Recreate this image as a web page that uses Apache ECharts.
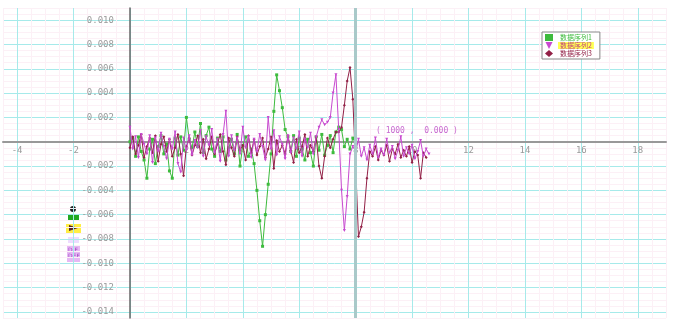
<!DOCTYPE html>
<html>
<head>
<meta charset="utf-8">
<script src="https://cdn.jsdelivr.net/npm/echarts@6/dist/echarts.min.js"></script>
<style>html,body{margin:0;padding:0;background:#fff}#c{width:677px;height:320px}</style>
</head>
<body>
<div id="c"></div>
<script>
// x positions: step 0.1 starting at 0
var xStep = 0.1;
var seriesNames = ['数据序列1', '数据序列2', '数据序列3'];
var greenValues = [
 0.0000, 0.0003,-0.0012, 0.0004,-0.0008,-0.0015,-0.0030,-0.0006, 0.0002,-0.0018,
-0.0004, 0.0005,-0.0010,-0.0002,-0.0024,-0.0030, 0.0003,-0.0011, 0.0004,-0.0007,
 0.0020, 0.0002,-0.0005, 0.0008,-0.0004, 0.0015,-0.0009, 0.0005, 0.0012,-0.0006,
-0.0012, 0.0003,-0.0008, 0.0004,-0.0015,-0.0005, 0.0002,-0.0010, 0.0006,-0.0020,
-0.0003, 0.0004,-0.0012,-0.0006,-0.0018,-0.0040,-0.0065,-0.0086,-0.0060,-0.0035,
-0.0010, 0.0025, 0.0055, 0.0042, 0.0028, 0.0010, 0.0004,-0.0008, 0.0005,-0.0012,
 0.0003,-0.0006,-0.0015, 0.0002,-0.0009,-0.0020, 0.0004,-0.0007, 0.0006,-0.0011,
-0.0003, 0.0005,-0.0009, 0.0008, 0.0012, 0.0010,-0.0004, 0.0002,-0.0006, 0.0003,
-0.0002
];
var purpleValues = [
 0.0012,-0.0006, 0.0004,-0.0013, 0.0006,-0.0002,-0.0010, 0.0005,-0.0017, 0.0003,
-0.0008, 0.0007,-0.0004,-0.0014, 0.0002,-0.0006, 0.0008,-0.0018,-0.0025, 0.0003,
-0.0007, 0.0005,-0.0011, 0.0001,-0.0005, 0.0009,-0.0012, 0.0004,-0.0003, 0.0010,
-0.0009, 0.0002,-0.0016, 0.0006, 0.0025,-0.0012, 0.0005,-0.0007, 0.0003,-0.0010,
 0.0012,-0.0005, 0.0004,-0.0013, 0.0002,-0.0008, 0.0006,-0.0004,-0.0015, 0.0020,
-0.0006, 0.0009,-0.0011, 0.0004,-0.0002,-0.0014, 0.0005,-0.0009, 0.0003,-0.0006,
 0.0008,-0.0012, 0.0002,-0.0005, 0.0007,-0.0010, 0.0004, 0.0012, 0.0018, 0.0014,
 0.0016, 0.0020, 0.0040, 0.0055, 0.0010,-0.0040,-0.0073,-0.0045,-0.0010,-0.0004,
-0.0008, 0.0002,-0.0012,-0.0005,-0.0015,-0.0003,-0.0010, 0.0003,-0.0013,-0.0006,
-0.0011, 0.0002,-0.0009,-0.0004,-0.0014,-0.0007, 0.0004,-0.0012,-0.0005,-0.0010,
-0.0003,-0.0014,-0.0008, 0.0001,-0.0012,-0.0006,-0.0010
];
var darkRedValues = [
-0.0005, 0.0004,-0.0010,-0.0003, 0.0006,-0.0013,-0.0004, 0.0003,-0.0009, 0.0005,
-0.0016,-0.0002, 0.0004,-0.0008, 0.0002,-0.0012,-0.0005, 0.0006,-0.0010,-0.0028,
-0.0004, 0.0003,-0.0011,-0.0003, 0.0005,-0.0009, 0.0002,-0.0014,-0.0006, 0.0004,
-0.0010,-0.0002, 0.0006,-0.0008,-0.0019, 0.0003,-0.0005,-0.0012, 0.0004,-0.0007,
-0.0003,-0.0015, 0.0005,-0.0009, 0.0002,-0.0011,-0.0004, 0.0003,-0.0013,-0.0006,
 0.0004,-0.0022, 0.0001,-0.0008,-0.0003,-0.0010, 0.0005,-0.0007,-0.0017, 0.0002,
-0.0009,-0.0004, 0.0006,-0.0012,-0.0003,-0.0008, 0.0004,-0.0020,-0.0030,-0.0012,
 0.0003,-0.0005, 0.0002, 0.0008, 0.0008, 0.0012, 0.0030, 0.0050, 0.0061, 0.0035,
-0.0020,-0.0078,-0.0070,-0.0058,-0.0030,-0.0008,-0.0012,-0.0004,-0.0015,-0.0007,
-0.0011,-0.0003,-0.0016,-0.0006,-0.0010,-0.0002,-0.0013,-0.0007,-0.0012,-0.0004,
-0.0017,-0.0008,-0.0011,-0.0030,-0.0009,-0.0013
];
var seriesColors = ['#3dbb3d', '#c84ad0', '#922046'];
var xMarkerLine = 8;
var annotationText = '( 1000 ,  0.000 )';
var xMin = -4.5, xMax = 19, yMin = -0.0145, yMax = 0.011;

function pairs(vals) {
  return vals.map(function (v, i) { return [Math.round(i * xStep * 10) / 10, v]; });
}
var G = {left: 3, right: 11, top: 8, bottom: 2, W: 677, H: 320};
var gw = G.W - G.left - G.right, gh = G.H - G.top - G.bottom;
// put the axes through the origin (offset from the grid edge)
var xAxisOffset = -(gh * (0 - yMin) / (yMax - yMin));
var yAxisOffset = -(gw * (0 - xMin) / (xMax - xMin));

var majorC = '#a6eaea', minorC = '#fcf0f6';
var chart = echarts.init(document.getElementById('c'), null, {renderer: 'canvas'});
var lblFont = {color: '#9a9a9a', fontSize: 9, fontFamily: 'DejaVu Sans Mono'};
chart.setOption({
  animation: false,
  backgroundColor: '#ffffff',
  grid: {left: G.left, right: G.right, top: G.top, bottom: G.bottom, containLabel: false, outerBoundsMode: 'none'},
  legend: {
    data: [
      {name: seriesNames[0], icon: 'rect', textStyle: {color: seriesColors[0]}},
      {name: seriesNames[1], icon: 'path://M0,0L10,0L5,10Z', textStyle: {color: '#c04080', backgroundColor: '#ffff55'}},
      {name: seriesNames[2], icon: 'diamond', textStyle: {color: seriesColors[2]}}
    ],
    orient: 'vertical', left: 542, top: 32,
    backgroundColor: '#ffffff', borderColor: '#888', borderWidth: 1,
    padding: [2, 6, 2, 3], itemGap: 1, itemWidth: 8, itemHeight: 7,
    textStyle: {fontSize: 7, fontFamily: 'Noto Sans CJK SC', padding: [0, 2]}
  },
  xAxis: {
    type: 'value', min: xMin, max: xMax, interval: 0.5, position: 'bottom', offset: xAxisOffset,
    axisLine: {onZero: false, lineStyle: {color: '#999', width: 2}},
    axisTick: {show: false},
    axisLabel: Object.assign({interval: 0, hideOverlap: false, margin: 4, formatter: function (v) {
      v = Number(v);
      var k = Math.round(v);
      if (Math.abs(v - k) > 1e-6 || k % 2 !== 0 || k === 0) return '';
      return String(k);
    }}, lblFont),
    splitLine: {show: true, lineStyle: {color: [minorC, majorC, minorC, minorC], width: 1}}
  },
  yAxis: {
    type: 'value', min: yMin, max: yMax, interval: 0.0005, position: 'left', offset: yAxisOffset,
    axisLine: {onZero: false, lineStyle: {color: '#666', width: 1.5}},
    axisTick: {show: false},
    axisLabel: Object.assign({interval: 0, hideOverlap: false, margin: 16, formatter: function (v) {
      v = Number(v);
      var r = Math.round(v * 1000);
      if (Math.abs(v * 1000 - r) > 1e-6 || r % 2 !== 0 || r === 0) return '';
      return (r / 1000).toFixed(3);
    }}, lblFont),
    splitLine: {show: true, lineStyle: {color: [minorC, majorC, minorC, minorC], width: 1}}
  },
  series: [
    {name: seriesNames[0], type: 'line', data: pairs(greenValues), symbol: 'rect', symbolSize: 3,
     z: 2, lineStyle: {color: seriesColors[0], width: 1}, itemStyle: {color: seriesColors[0]},
     markLine: {silent: true, symbol: 'none', label: {show: false},
       lineStyle: {color: '#a9c9c9', width: 3, type: 'solid'}, data: [{xAxis: xMarkerLine}]}},
    {name: seriesNames[2], type: 'line', data: pairs(darkRedValues), symbol: 'diamond', symbolSize: 3,
     z: 3, lineStyle: {color: seriesColors[2], width: 1}, itemStyle: {color: seriesColors[2]}},
    {name: seriesNames[1], type: 'line', data: pairs(purpleValues), symbol: 'triangle', symbolRotate: 180, symbolSize: 3,
     z: 4, lineStyle: {color: seriesColors[1], width: 1}, itemStyle: {color: seriesColors[1]}}
  ],
  graphic: [
    {type: 'text', left: 376, top: 127, z: 10, style: {text: annotationText, fill: '#c86ad0', font: '8px DejaVu Sans Mono'}},
    {type: 'group', left: 66, top: 206, z: 10, children: [
      {type: 'circle', shape: {cx: 7, cy: 3, r: 3}, style: {fill: '#222'}},
      {type: 'rect', shape: {x: 2, y: 9, width: 11, height: 6}, style: {fill: '#22aa22'}},
      {type: 'rect', shape: {x: 0, y: 18, width: 15, height: 9}, style: {fill: '#ffee44'}},
      {type: 'polygon', shape: {points: [[3, 19], [12, 22], [3, 25]]}, style: {fill: '#552222'}},
      {type: 'rect', shape: {x: 2, y: 31, width: 11, height: 6}, style: {fill: '#eedcff'}},
      {type: 'rect', shape: {x: 1, y: 40, width: 13, height: 16}, style: {fill: '#e6b8f4'}},
      {type: 'text', x: 2, y: 41, style: {text: 'DIF\nDEF', fill: '#9a40c0', font: '6px DejaVu Sans'}}
    ]}
  ]
});
</script>
</body>
</html>
